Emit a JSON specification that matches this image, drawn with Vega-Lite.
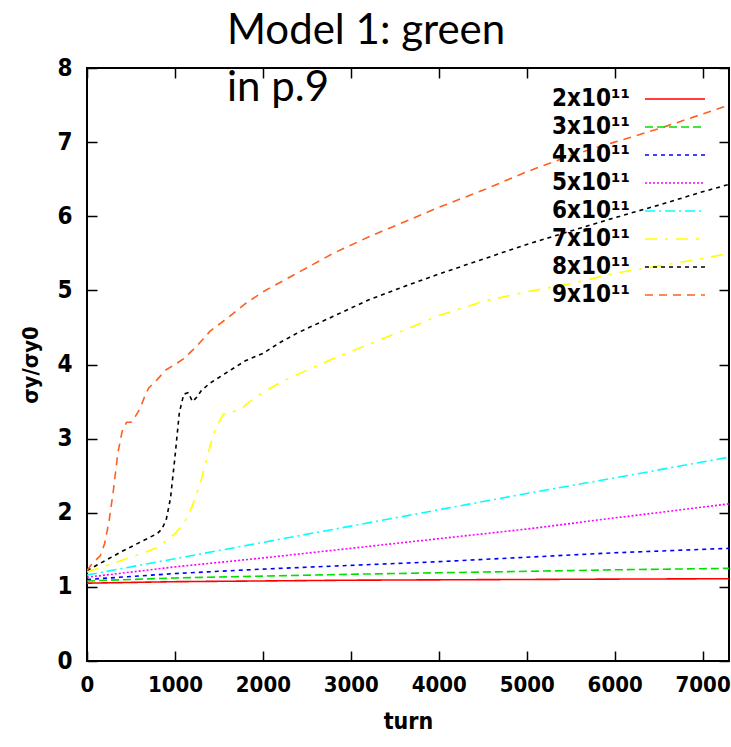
{
  "$schema": "https://vega.github.io/schema/vega-lite/v6.json",
  "width": 642,
  "height": 593,
  "autosize": "none",
  "padding": {"left": 87, "top": 68, "right": 2, "bottom": 86},
  "background": "white",
  "config": {
    "view": {"stroke": "black", "strokeWidth": 2},
    "font": "DejaVu Sans Condensed, Liberation Sans"
  },
  "title": {
    "text": ["Model 1: green", "in p.9"],
    "font": "Lato",
    "fontSize": 42,
    "fontWeight": "normal",
    "color": "black",
    "anchor": "start",
    "frame": "group",
    "dx": 140,
    "offset": -87,
    "lineHeight": 57,
    "baseline": "alphabetic"
  },
  "data": {
    "values": [
      {"turn": 0, "ratio": 1.05, "N": "2x10¹¹"},
      {"turn": 1000, "ratio": 1.07, "N": "2x10¹¹"},
      {"turn": 2000, "ratio": 1.08, "N": "2x10¹¹"},
      {"turn": 3000, "ratio": 1.09, "N": "2x10¹¹"},
      {"turn": 4000, "ratio": 1.095, "N": "2x10¹¹"},
      {"turn": 5000, "ratio": 1.1, "N": "2x10¹¹"},
      {"turn": 6000, "ratio": 1.105, "N": "2x10¹¹"},
      {"turn": 7300, "ratio": 1.11, "N": "2x10¹¹"},

      {"turn": 0, "ratio": 1.08, "N": "3x10¹¹"},
      {"turn": 1000, "ratio": 1.12, "N": "3x10¹¹"},
      {"turn": 2000, "ratio": 1.145, "N": "3x10¹¹"},
      {"turn": 3000, "ratio": 1.17, "N": "3x10¹¹"},
      {"turn": 4000, "ratio": 1.19, "N": "3x10¹¹"},
      {"turn": 5000, "ratio": 1.21, "N": "3x10¹¹"},
      {"turn": 6000, "ratio": 1.23, "N": "3x10¹¹"},
      {"turn": 7300, "ratio": 1.25, "N": "3x10¹¹"},

      {"turn": 0, "ratio": 1.1, "N": "4x10¹¹"},
      {"turn": 1000, "ratio": 1.18, "N": "4x10¹¹"},
      {"turn": 2000, "ratio": 1.24, "N": "4x10¹¹"},
      {"turn": 3000, "ratio": 1.29, "N": "4x10¹¹"},
      {"turn": 4000, "ratio": 1.34, "N": "4x10¹¹"},
      {"turn": 5000, "ratio": 1.4, "N": "4x10¹¹"},
      {"turn": 6000, "ratio": 1.46, "N": "4x10¹¹"},
      {"turn": 7300, "ratio": 1.52, "N": "4x10¹¹"},

      {"turn": 0, "ratio": 1.13, "N": "5x10¹¹"},
      {"turn": 1000, "ratio": 1.27, "N": "5x10¹¹"},
      {"turn": 2000, "ratio": 1.39, "N": "5x10¹¹"},
      {"turn": 3000, "ratio": 1.52, "N": "5x10¹¹"},
      {"turn": 4000, "ratio": 1.65, "N": "5x10¹¹"},
      {"turn": 5000, "ratio": 1.78, "N": "5x10¹¹"},
      {"turn": 6000, "ratio": 1.93, "N": "5x10¹¹"},
      {"turn": 7300, "ratio": 2.12, "N": "5x10¹¹"},

      {"turn": 0, "ratio": 1.16, "N": "6x10¹¹"},
      {"turn": 1000, "ratio": 1.38, "N": "6x10¹¹"},
      {"turn": 2000, "ratio": 1.6, "N": "6x10¹¹"},
      {"turn": 3000, "ratio": 1.82, "N": "6x10¹¹"},
      {"turn": 4000, "ratio": 2.04, "N": "6x10¹¹"},
      {"turn": 5000, "ratio": 2.26, "N": "6x10¹¹"},
      {"turn": 6000, "ratio": 2.47, "N": "6x10¹¹"},
      {"turn": 7300, "ratio": 2.75, "N": "6x10¹¹"},

      {"turn": 0, "ratio": 1.2, "N": "7x10¹¹"},
      {"turn": 200, "ratio": 1.28, "N": "7x10¹¹"},
      {"turn": 400, "ratio": 1.36, "N": "7x10¹¹"},
      {"turn": 600, "ratio": 1.44, "N": "7x10¹¹"},
      {"turn": 800, "ratio": 1.53, "N": "7x10¹¹"},
      {"turn": 1000, "ratio": 1.72, "N": "7x10¹¹"},
      {"turn": 1100, "ratio": 1.85, "N": "7x10¹¹"},
      {"turn": 1200, "ratio": 2.1, "N": "7x10¹¹"},
      {"turn": 1300, "ratio": 2.45, "N": "7x10¹¹"},
      {"turn": 1400, "ratio": 2.9, "N": "7x10¹¹"},
      {"turn": 1450, "ratio": 3.1, "N": "7x10¹¹"},
      {"turn": 1500, "ratio": 3.22, "N": "7x10¹¹"},
      {"turn": 1550, "ratio": 3.33, "N": "7x10¹¹"},
      {"turn": 1650, "ratio": 3.36, "N": "7x10¹¹"},
      {"turn": 1750, "ratio": 3.4, "N": "7x10¹¹"},
      {"turn": 1850, "ratio": 3.5, "N": "7x10¹¹"},
      {"turn": 2000, "ratio": 3.62, "N": "7x10¹¹"},
      {"turn": 2200, "ratio": 3.76, "N": "7x10¹¹"},
      {"turn": 2400, "ratio": 3.87, "N": "7x10¹¹"},
      {"turn": 2800, "ratio": 4.08, "N": "7x10¹¹"},
      {"turn": 3200, "ratio": 4.27, "N": "7x10¹¹"},
      {"turn": 3600, "ratio": 4.46, "N": "7x10¹¹"},
      {"turn": 4000, "ratio": 4.66, "N": "7x10¹¹"},
      {"turn": 4500, "ratio": 4.85, "N": "7x10¹¹"},
      {"turn": 5000, "ratio": 4.98, "N": "7x10¹¹"},
      {"turn": 5500, "ratio": 5.09, "N": "7x10¹¹"},
      {"turn": 6000, "ratio": 5.23, "N": "7x10¹¹"},
      {"turn": 6500, "ratio": 5.33, "N": "7x10¹¹"},
      {"turn": 7000, "ratio": 5.43, "N": "7x10¹¹"},
      {"turn": 7300, "ratio": 5.5, "N": "7x10¹¹"},

      {"turn": 0, "ratio": 1.22, "N": "8x10¹¹"},
      {"turn": 200, "ratio": 1.35, "N": "8x10¹¹"},
      {"turn": 400, "ratio": 1.48, "N": "8x10¹¹"},
      {"turn": 600, "ratio": 1.6, "N": "8x10¹¹"},
      {"turn": 700, "ratio": 1.66, "N": "8x10¹¹"},
      {"turn": 800, "ratio": 1.72, "N": "8x10¹¹"},
      {"turn": 850, "ratio": 1.78, "N": "8x10¹¹"},
      {"turn": 900, "ratio": 1.9, "N": "8x10¹¹"},
      {"turn": 950, "ratio": 2.2, "N": "8x10¹¹"},
      {"turn": 1000, "ratio": 2.75, "N": "8x10¹¹"},
      {"turn": 1050, "ratio": 3.35, "N": "8x10¹¹"},
      {"turn": 1100, "ratio": 3.6, "N": "8x10¹¹"},
      {"turn": 1150, "ratio": 3.62, "N": "8x10¹¹"},
      {"turn": 1200, "ratio": 3.5, "N": "8x10¹¹"},
      {"turn": 1250, "ratio": 3.56, "N": "8x10¹¹"},
      {"turn": 1300, "ratio": 3.65, "N": "8x10¹¹"},
      {"turn": 1400, "ratio": 3.75, "N": "8x10¹¹"},
      {"turn": 1600, "ratio": 3.9, "N": "8x10¹¹"},
      {"turn": 1800, "ratio": 4.05, "N": "8x10¹¹"},
      {"turn": 2000, "ratio": 4.15, "N": "8x10¹¹"},
      {"turn": 2200, "ratio": 4.3, "N": "8x10¹¹"},
      {"turn": 2400, "ratio": 4.43, "N": "8x10¹¹"},
      {"turn": 2800, "ratio": 4.65, "N": "8x10¹¹"},
      {"turn": 3200, "ratio": 4.87, "N": "8x10¹¹"},
      {"turn": 3600, "ratio": 5.05, "N": "8x10¹¹"},
      {"turn": 4000, "ratio": 5.22, "N": "8x10¹¹"},
      {"turn": 4500, "ratio": 5.42, "N": "8x10¹¹"},
      {"turn": 5000, "ratio": 5.62, "N": "8x10¹¹"},
      {"turn": 5500, "ratio": 5.8, "N": "8x10¹¹"},
      {"turn": 6000, "ratio": 5.98, "N": "8x10¹¹"},
      {"turn": 6500, "ratio": 6.15, "N": "8x10¹¹"},
      {"turn": 7000, "ratio": 6.33, "N": "8x10¹¹"},
      {"turn": 7300, "ratio": 6.43, "N": "8x10¹¹"},

      {"turn": 0, "ratio": 1.22, "N": "9x10¹¹"},
      {"turn": 50, "ratio": 1.3, "N": "9x10¹¹"},
      {"turn": 100, "ratio": 1.36, "N": "9x10¹¹"},
      {"turn": 150, "ratio": 1.42, "N": "9x10¹¹"},
      {"turn": 200, "ratio": 1.58, "N": "9x10¹¹"},
      {"turn": 250, "ratio": 1.88, "N": "9x10¹¹"},
      {"turn": 300, "ratio": 2.3, "N": "9x10¹¹"},
      {"turn": 350, "ratio": 2.8, "N": "9x10¹¹"},
      {"turn": 400, "ratio": 3.1, "N": "9x10¹¹"},
      {"turn": 450, "ratio": 3.22, "N": "9x10¹¹"},
      {"turn": 500, "ratio": 3.22, "N": "9x10¹¹"},
      {"turn": 550, "ratio": 3.3, "N": "9x10¹¹"},
      {"turn": 600, "ratio": 3.4, "N": "9x10¹¹"},
      {"turn": 650, "ratio": 3.55, "N": "9x10¹¹"},
      {"turn": 700, "ratio": 3.68, "N": "9x10¹¹"},
      {"turn": 800, "ratio": 3.8, "N": "9x10¹¹"},
      {"turn": 900, "ratio": 3.93, "N": "9x10¹¹"},
      {"turn": 1000, "ratio": 4.0, "N": "9x10¹¹"},
      {"turn": 1100, "ratio": 4.08, "N": "9x10¹¹"},
      {"turn": 1250, "ratio": 4.25, "N": "9x10¹¹"},
      {"turn": 1400, "ratio": 4.45, "N": "9x10¹¹"},
      {"turn": 1600, "ratio": 4.63, "N": "9x10¹¹"},
      {"turn": 1800, "ratio": 4.82, "N": "9x10¹¹"},
      {"turn": 2000, "ratio": 4.98, "N": "9x10¹¹"},
      {"turn": 2400, "ratio": 5.24, "N": "9x10¹¹"},
      {"turn": 2800, "ratio": 5.5, "N": "9x10¹¹"},
      {"turn": 3200, "ratio": 5.72, "N": "9x10¹¹"},
      {"turn": 3600, "ratio": 5.92, "N": "9x10¹¹"},
      {"turn": 4000, "ratio": 6.12, "N": "9x10¹¹"},
      {"turn": 4500, "ratio": 6.35, "N": "9x10¹¹"},
      {"turn": 5000, "ratio": 6.6, "N": "9x10¹¹"},
      {"turn": 5500, "ratio": 6.82, "N": "9x10¹¹"},
      {"turn": 6000, "ratio": 7.0, "N": "9x10¹¹"},
      {"turn": 6500, "ratio": 7.18, "N": "9x10¹¹"},
      {"turn": 7000, "ratio": 7.38, "N": "9x10¹¹"},
      {"turn": 7300, "ratio": 7.5, "N": "9x10¹¹"}
    ]
  },
  "layer": [
    {
      "mark": {"type": "line", "strokeWidth": 1.6, "clip": true},
      "encoding": {
        "x": {
          "field": "turn",
          "type": "quantitative",
          "scale": {"domain": [0, 7300], "nice": false},
          "axis": {
            "orient": "bottom",
            "values": [0, 1000, 2000, 3000, 4000, 5000, 6000, 7000],
            "format": "d",
            "grid": false,
            "domain": false,
            "tickSize": -10,
            "tickWidth": 1.5,
            "tickColor": "black",
            "labelFont": "DejaVu Sans Condensed, Liberation Sans",
            "labelFontWeight": "bold",
            "labelFontSize": 22,
            "labelColor": "black",
            "labelPadding": 23,
            "labelFlush": false,
            "title": "turn",
            "titleFont": "DejaVu Sans Condensed, Liberation Sans",
            "titleFontWeight": "bold",
            "titleFontSize": 23,
            "titleColor": "black",
            "titlePadding": 15
          }
        },
        "y": {
          "field": "ratio",
          "type": "quantitative",
          "scale": {"domain": [0, 8], "nice": false},
          "axis": {
            "orient": "left",
            "values": [0, 1, 2, 3, 4, 5, 6, 7, 8],
            "format": "d",
            "grid": false,
            "domain": false,
            "tickSize": -10,
            "tickWidth": 1.5,
            "tickColor": "black",
            "labelFont": "DejaVu Sans Condensed, Liberation Sans",
            "labelFontWeight": "bold",
            "labelFontSize": 24,
            "labelColor": "black",
            "labelPadding": 25,
            "labelFlush": false,
            "title": "σy/σy0",
            "titleFont": "DejaVu Sans Condensed, Liberation Sans",
            "titleFontWeight": "bold",
            "titleFontSize": 22,
            "titleColor": "black",
            "titlePadding": 14
          }
        },
        "color": {
          "field": "N",
          "type": "nominal",
          "scale": {
            "domain": ["2x10¹¹", "3x10¹¹", "4x10¹¹", "5x10¹¹", "6x10¹¹", "7x10¹¹", "8x10¹¹", "9x10¹¹"],
            "range": ["#ff0000", "#00e000", "#0000ff", "#ff00ff", "#00ffff", "#ffff00", "#000000", "#ff6020"]
          },
          "legend": {
            "title": null,
            "orient": "none",
            "legendX": 576,
            "legendY": 19,
            "padding": 0,
            "symbolType": "M-3,0H3",
            "symbolSize": 400,
            "symbolStrokeWidth": 1.6,
            "labelAlign": "right",
            "labelOffset": -57,
            "labelFont": "DejaVu Sans Condensed, Liberation Sans",
            "labelFontWeight": "bold",
            "labelFontSize": 24,
            "labelColor": "black",
            "rowPadding": 4
          }
        },
        "strokeDash": {
          "field": "N",
          "type": "nominal",
          "scale": {
            "domain": ["2x10¹¹", "3x10¹¹", "4x10¹¹", "5x10¹¹", "6x10¹¹", "7x10¹¹", "8x10¹¹", "9x10¹¹"],
            "range": [[1, 0], [8, 4], [4, 4], [2, 2], [10, 4, 2, 4], [12, 8, 3, 8], [4, 4], [8, 6]]
          },
          "legend": {
            "title": null,
            "orient": "none",
            "legendX": 576,
            "legendY": 19,
            "padding": 0,
            "symbolType": "M-3,0H3",
            "symbolSize": 400,
            "symbolStrokeWidth": 1.6,
            "labelAlign": "right",
            "labelOffset": -57,
            "labelFont": "DejaVu Sans Condensed, Liberation Sans",
            "labelFontWeight": "bold",
            "labelFontSize": 24,
            "labelColor": "black",
            "rowPadding": 4
          }
        }
      }
    },
    {
      "mark": {"type": "line", "strokeOpacity": 0},
      "encoding": {
        "x": {
          "field": "turn",
          "type": "quantitative",
          "axis": {
            "orient": "top",
            "values": [0, 1000, 2000, 3000, 4000, 5000, 6000, 7000],
            "grid": false,
            "domain": false,
            "labels": false,
            "tickSize": -10,
            "tickWidth": 1.5,
            "tickColor": "black",
            "title": null
          }
        },
        "y": {
          "field": "ratio",
          "type": "quantitative",
          "axis": {
            "orient": "right",
            "values": [0, 1, 2, 3, 4, 5, 6, 7, 8],
            "grid": false,
            "domain": false,
            "labels": false,
            "tickSize": -10,
            "tickWidth": 1.5,
            "tickColor": "black",
            "title": null
          }
        }
      }
    }
  ],
  "resolve": {"axis": {"x": "independent", "y": "independent"}}
}
